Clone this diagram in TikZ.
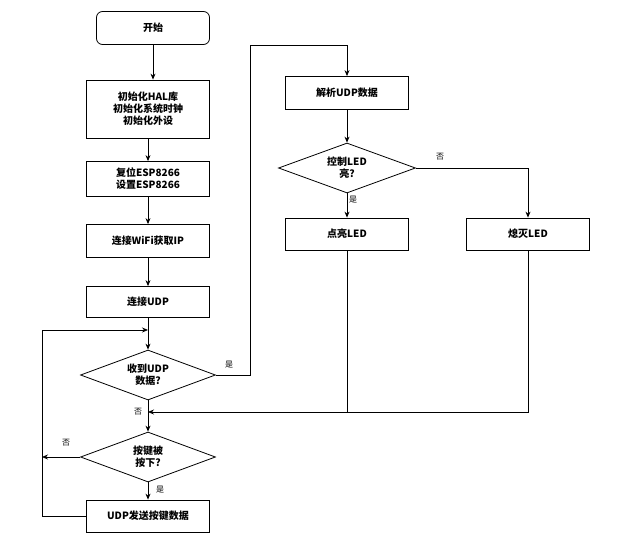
\documentclass[tikz,border=0pt]{standalone}
\usepackage{fontspec}
\setmainfont{Noto Sans CJK SC}
\usetikzlibrary{shapes.geometric,arrows.meta}
\begin{document}
\begin{tikzpicture}[x=1pt,y=-1pt,
 box/.style={draw,line width=0.8pt,minimum width=123pt,minimum height=33pt,align=center,font=\bfseries\fontsize{10}{12}\selectfont},
 dia/.style={draw,diamond,aspect=2.7,line width=0.8pt,minimum width=136pt,minimum height=50pt,inner sep=0pt,align=center,font=\bfseries\fontsize{10}{12}\selectfont},
 ln/.style={line width=0.8pt},
 ar/.style={line width=0.8pt,-{Stealth[length=6pt,width=5pt]}},
 lb/.style={font=\fontsize{8}{9}\selectfont}]
\useasboundingbox (0,0) rectangle (631,540);
\node[box,rounded corners=6pt,minimum width=113pt,minimum height=33pt] (s) at (153,28) {开始};
\node[box,minimum height=58pt] (i) at (148,109) {初始化HAL库\\初始化系统时钟\\初始化外设};
\node[box,minimum height=35pt] (e) at (148,179) {复位ESP8266\\设置ESP8266};
\node[box] (w) at (148,241) {连接WiFi获取IP};
\node[box,minimum height=31pt] (u) at (148,302) {连接UDP};
\node[dia,minimum width=135pt] (d1) at (148,375) {收到UDP\\数据?};
\node[dia,minimum width=135pt] (d2) at (148,457) {按键被\\按下?};
\node[box,minimum height=32pt] (k) at (148,516) {UDP发送按键数据};
\node[box] (p) at (347,93) {解析UDP数据};
\node[dia,minimum width=137pt] (d3) at (347,168) {控制LED\\亮?};
\node[box,minimum height=32pt] (on) at (347,234) {点亮LED};
\node[box,minimum height=32pt] (off) at (528,234) {熄灭LED};
\coordinate (m) at (148,412);
\coordinate (t) at (148,330);
\draw[ar] (s) -- (s|-i.north);
\draw[ar] (i) -- (e);
\draw[ar] (e) -- (w);
\draw[ar] (w) -- (u);
\draw[ar] (u) -- (d1);
\draw[ar] (d1) -- (d2);
\draw[ar] (d2) -- (k);
\draw[ar] (d1.east) -- (250,375) -- (250,45) -- (347,45) -- (p.north);
\draw[ar] (p) -- (d3);
\draw[ar] (d3) -- (on);
\draw[ar] (d3.east) -- (528,168) -- (off.north);
\draw[ln] (on.south) -- (347,412);
\draw[ar] (off.south) -- (528,412) -- (m);
\draw[ar] (k.west) -- (42,516) -- (42,330) -- (t);
\draw[ar] (d2.west) -- (42,457);
\node[lb] (l1) at (229,365) {是};
\node[lb] (l2) at (138,412) {否};
\node[lb] (l3) at (66,443) {否};
\node[lb] (l4) at (160,490) {是};
\node[lb] (l5) at (440,157) {否};
\node[lb] (l6) at (353,200) {是};
\end{tikzpicture}
\end{document}
